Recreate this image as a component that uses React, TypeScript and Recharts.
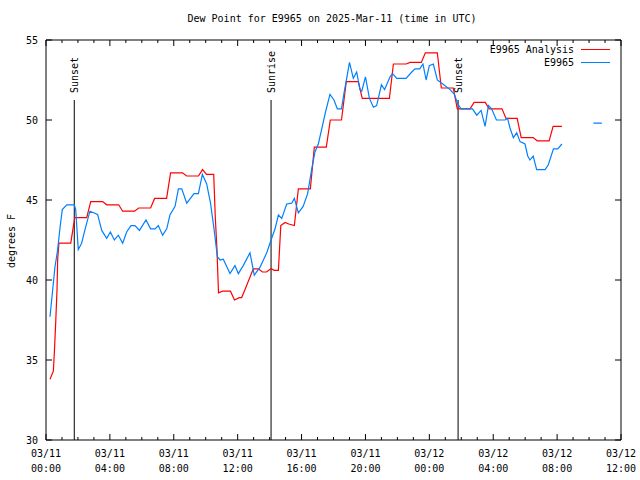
import React from "react";
import { LineChart, Line, XAxis, YAxis, ReferenceLine, ReferenceArea } from "recharts";

// analysis (red) samples, hours since 03/11 00:00 UTC
const analysisHours = [
  0.25, 0.46, 0.52, 0.61, 0.69, 0.73, 0.81, 1.55, 1.8, 2.55, 2.8, 3.55, 3.8, 4.55, 4.8, 5.55, 5.8, 6.55, 6.8,
  7.55, 7.8, 8.55, 8.8, 9.55, 9.8, 10.05, 10.5, 10.6, 10.7, 10.8, 11.05, 11.55, 11.8, 12.1, 12.25, 12.46, 12.98,
  13.3, 13.55, 13.8, 14.09, 14.3, 14.55, 14.7, 14.97, 15.2, 15.55, 15.8, 16.55, 16.8, 17.55, 17.8, 18.5, 18.8,
  19.55, 19.8, 21.5, 21.75, 22.55, 22.8, 23.5, 23.75, 24.5, 24.75, 25.5, 25.75, 26.55, 26.8, 27.5, 27.75, 28.55,
  28.8, 29.5, 29.75, 30.5, 30.75, 31.5, 31.75, 32.3,
];
const analysisValues = [
  33.8, 34.3, 35.4, 37.4, 39.4, 41.3, 42.3, 42.3, 43.9, 43.9, 44.9, 44.9, 44.7, 44.7, 44.3, 44.3, 44.5, 44.5, 45.1,
  45.1, 46.7, 46.7, 46.5, 46.5, 46.9, 46.6, 46.6, 43.9, 42.0, 39.2, 39.3, 39.3, 38.75, 38.9, 38.9, 39.4, 40.7,
  40.7, 40.5, 40.5, 40.7, 40.6, 40.6, 43.4, 43.6, 43.5, 43.4, 45.7, 45.7, 48.3, 48.3, 50.0, 50.0, 52.4,
  52.4, 51.35, 51.35, 53.5, 53.5, 53.6, 53.6, 54.2, 54.2, 52.0, 52.0, 50.7, 50.7, 51.1, 51.1, 50.7, 50.7,
  50.1, 50.1, 48.9, 48.9, 48.7, 48.7, 49.6, 49.6,
];

// station (blue) samples
const stationHours = [
  0.25, 0.4, 0.56, 0.73, 0.88, 1.02, 1.3, 1.77, 1.86, 2.02, 2.23, 2.48, 2.75, 3.23, 3.49, 3.8, 4.03, 4.28, 4.53,
  4.8, 5.05, 5.32, 5.57, 5.85, 6.26, 6.55, 6.83, 7.03, 7.3, 7.56, 7.76, 8.08, 8.29, 8.5, 8.81, 9.27, 9.54, 9.79,
  10.06, 10.3, 10.52, 10.73, 10.9, 11.1, 11.52, 11.83, 12.04, 12.35, 12.77, 13.04, 13.4, 13.82, 14.09, 14.34,
  14.55, 14.76, 15.07, 15.38, 15.55, 15.8, 16.1, 16.38, 16.63, 16.84, 17.05, 17.3, 17.5, 17.78, 18.03, 18.24,
  18.5, 18.66, 18.79, 19.0, 19.24, 19.45, 19.66, 19.77, 20.0, 20.25, 20.5, 20.7, 21.0, 21.2, 21.54, 21.7, 21.96,
  22.54, 22.9, 23.1, 23.4, 23.6, 23.8, 24.0, 24.25, 24.5, 24.78, 25.3, 25.57, 25.78, 25.99, 26.7, 26.97, 27.24,
  27.49, 27.7, 27.9, 28.2, 28.74, 28.9, 29.05, 29.26, 29.47, 29.68, 29.99, 30.16, 30.3, 30.5, 30.72, 31.25,
  31.45, 31.77, 32.04, 32.3, 33.3, 34.27, 34.8,
];
const stationValues = [
  37.7, 39.2, 40.8, 41.9, 43.3, 44.4, 44.7, 44.7, 44.4, 41.9, 42.3, 43.3, 44.3, 44.1, 43.1, 42.6, 43.0, 42.5, 42.8,
  42.3, 43.0, 43.4, 43.4, 43.1, 43.75, 43.2, 43.2, 43.4, 42.8, 43.2, 44.06, 44.6, 45.7, 45.7, 44.8, 45.4, 45.4, 46.6,
  46.0, 44.8, 43.2, 41.45, 41.25, 41.3, 40.4, 40.9, 40.4, 40.9, 41.7, 40.3, 40.8, 41.7, 42.5, 43.2,
  44.06, 43.85, 44.75, 44.8, 45.1, 44.2, 44.6, 45.4, 46.9, 48.0, 48.5, 49.6, 50.5, 51.6, 51.25, 50.7,
  50.7, 51.7, 52.4, 53.6, 52.6, 53.0, 51.9, 51.8, 52.7, 51.35, 50.8, 50.9, 52.2, 51.9, 52.7, 52.9, 52.6,
  52.6, 53.0, 53.2, 53.2, 53.5, 52.5, 53.4, 53.5, 52.5, 52.3, 51.9, 51.6, 51.0, 50.7, 50.7, 50.3, 50.6,
  49.6, 50.9, 50.7, 50.0, 50.0, 50.1, 49.5, 48.9, 49.2, 48.65, 48.5, 47.75, 47.5, 47.75, 46.9, 46.9,
  47.2, 48.2, 48.2, 48.5, null, 49.8, 49.8,
];

const eventHours = [1.77, 14.09, 25.8];
const eventNames = ["Sunset", "Sunrise", "Sunset"];

const xTickDates = ["03/11", "03/11", "03/11", "03/11", "03/11", "03/11", "03/12", "03/12", "03/12", "03/12"];
const xTickTimes = ["00:00", "04:00", "08:00", "12:00", "16:00", "20:00", "00:00", "04:00", "08:00", "12:00"];
const yTicks = [30, 35, 40, 45, 50, 55];

const analysisData = analysisHours.map((t, i) => ({ t, v: analysisValues[i] }));
const stationData = stationHours.map((t, i) => ({ t, v: stationValues[i] }));
const hourTicks = Array.from({ length: 37 }, (_, i) => i);

const W = 640;
const H = 480;
const PLOT_W = 575;
const PLOT_H = 400;
const FONT = "'DejaVu Sans Mono', 'Liberation Mono', monospace";
const RED = "#ff0000";
const BLUE = "#0080ff";

function XTick({ x, y, payload }: any) {
  const h = payload.value;
  const major = h % 4 === 0;
  const len = major ? 6 : 3;
  return (
    <g>
      <line x1={x} y1={y} x2={x} y2={y - len} stroke="#000" />
      <line x1={x} y1={y - PLOT_H} x2={x} y2={y - PLOT_H + len} stroke="#000" />
      {major && (
        <text x={x} textAnchor="middle" fontFamily={FONT} fontSize={10} fill="#000">
          <tspan x={x} y={y + 17}>{xTickDates[h / 4]}</tspan>
          <tspan x={x} y={y + 32}>{xTickTimes[h / 4]}</tspan>
        </text>
      )}
    </g>
  );
}

function YTick({ x, y, payload }: any) {
  return (
    <g>
      <line x1={x} y1={y} x2={x + 6} y2={y} stroke="#000" />
      <line x1={x + PLOT_W} y1={y} x2={x + PLOT_W - 6} y2={y} stroke="#000" />
      <text x={x - 8} y={y + 4} textAnchor="end" fontFamily={FONT} fontSize={10} fill="#000">
        {payload.value}
      </text>
    </g>
  );
}

function eventLabel(name: string) {
  return (props: any) => {
    const vb = props.viewBox || {};
    const x = vb.x + (vb.width || 0) / 2;
    const top = Math.min(vb.y, vb.y + (vb.height || 0));
    const y = top - 7;
    return (
      <text
        x={x}
        y={y}
        transform={`rotate(-90, ${x}, ${y})`}
        textAnchor="start"
        dominantBaseline="central"
        fontFamily={FONT}
        fontSize={10}
        fill="#000"
      >
        {name}
      </text>
    );
  };
}

export default function App() {
  return (
    <div style={{ position: "absolute", left: 0, top: 0, width: W, height: H, background: "#fff" }}>
      <div
        style={{
          position: "absolute", left: 12, width: W, top: 12, textAlign: "center",
          fontFamily: FONT, fontSize: 10, lineHeight: "14px",
        }}
      >
        Dew Point for E9965 on 2025-Mar-11 (time in UTC)
      </div>
      <div
        style={{
          position: "absolute", left: 12, top: 241, fontFamily: FONT, fontSize: 10, lineHeight: "12px",
          transform: "translate(-50%, -50%) rotate(-90deg)", whiteSpace: "nowrap",
        }}
      >
        degrees F
      </div>
      <div style={{ position: "absolute", right: 30, top: 43, fontFamily: FONT, fontSize: 10, lineHeight: "13px" }}>
        {[
          { name: "E9965 Analysis", color: RED },
          { name: "E9965", color: BLUE },
        ].map((s) => (
          <div key={s.name} style={{ display: "flex", justifyContent: "flex-end", alignItems: "center" }}>
            <span>{s.name}</span>
            <span style={{ display: "inline-block", width: 29, height: 1, background: s.color, marginLeft: 7 }} />
          </div>
        ))}
      </div>
      <LineChart width={W} height={H} margin={{ top: 40, right: 19, bottom: 0, left: 0 }}>
        <XAxis
          dataKey="t"
          type="number"
          domain={[0, 36]}
          ticks={hourTicks}
          interval={0}
          height={40}
          tickSize={0}
          tickMargin={0}
          tickLine={false}
          axisLine={false}
          tick={<XTick />}
          allowDataOverflow
        />
        <YAxis
          type="number"
          domain={[30, 55]}
          ticks={yTicks}
          width={46}
          tickSize={0}
          tickMargin={0}
          tickLine={false}
          axisLine={false}
          tick={<YTick />}
          allowDataOverflow
        />
        <ReferenceArea x1={0} x2={36} y1={30} y2={55} fill="none" stroke="#000" strokeWidth={1} />
        {eventHours.map((t, i) => (
          <ReferenceLine
            key={i}
            segment={[{ x: t, y: 51.25 }, { x: t, y: 30 }]}
            stroke="#000"
            strokeWidth={1}
            label={eventLabel(eventNames[i])}
          />
        ))}
        <Line
          data={analysisData}
          dataKey="v"
          type="linear"
          stroke={RED}
          strokeWidth={1.2}
          dot={false}
          isAnimationActive={false}
        />
        <Line
          data={stationData}
          dataKey="v"
          type="linear"
          stroke={BLUE}
          strokeWidth={1.2}
          dot={false}
          connectNulls={false}
          isAnimationActive={false}
        />
      </LineChart>
    </div>
  );
}
